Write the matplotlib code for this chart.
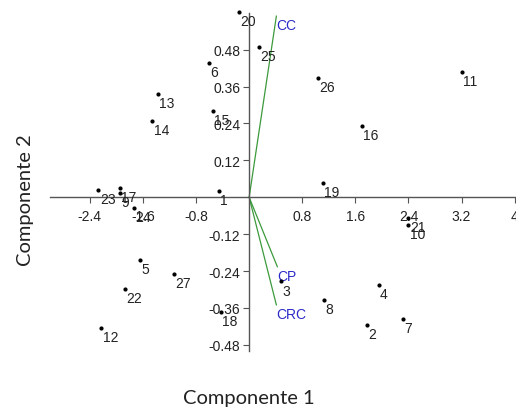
import matplotlib
matplotlib.use("Agg")
import matplotlib.pyplot as plt

# scores on the first two components
ids = [str(i) for i in range(1, 28)]
comp1 = [-0.46, 1.78, 0.476, 1.95, -1.65, -0.60, 2.32, 1.13, -1.94, 2.40,
         3.20, -2.23, -1.38, -1.46, -0.55, 1.695, -1.95, -0.43, 1.11, -0.156,
         2.40, -1.87, -2.27, -1.74, 0.15, 1.04, -1.135]
comp2 = [0.020, -0.415, -0.274, -0.284, -0.205, 0.436, -0.396, -0.333, 0.014, -0.090,
         0.408, -0.426, 0.336, 0.248, 0.280, 0.231, 0.030, -0.374, 0.045, 0.601,
         -0.067, -0.298, 0.023, -0.036, 0.488, 0.389, -0.248]

# variable loadings
var_names = ["CC", "CP", "CRC"]
var_x = [0.41, 0.425, 0.41]
var_y = [0.589, -0.226, -0.350]

xticks = [-2.4, -1.6, -0.8, 0.8, 1.6, 2.4, 3.2, 4]
yticks = [-0.48, -0.36, -0.24, -0.12, 0.12, 0.24, 0.36, 0.48]

plt.rcParams["font.family"] = ["Liberation Sans", "DejaVu Sans"]

fig = plt.figure(figsize=(5.16, 4.10), dpi=100)
ax = fig.add_axes([50 / 516, 0.1415, 466 / 516, 0.8249])
ax.set_xlim(-3.0, 4.02)
ax.set_ylim(-0.5, 0.6)

axis_col = "#555555"
for side in ["left", "bottom"]:
    ax.spines[side].set_position("zero")
    ax.spines[side].set_color(axis_col)
    ax.spines[side].set_linewidth(1.0)
for side in ["right", "top"]:
    ax.spines[side].set_visible(False)

ax.set_xticks(xticks)
ax.set_xticklabels(["%g" % t for t in xticks])
ax.set_yticks(yticks)
ax.set_yticklabels(["%.2f" % t for t in yticks])
ax.tick_params(axis="both", direction="out", length=4.5, width=0.8,
               color=axis_col, labelsize=10, labelcolor="#222222")
ax.tick_params(axis="x", pad=4)
ax.tick_params(axis="y", pad=1.8)

# loading vectors
for name, vx, vy in zip(var_names, var_x, var_y):
    ax.plot([0, vx], [0, vy], color="#3c9a3c", lw=0.9, zorder=2)
    ax.annotate(name, (vx, vy), xytext=(0, -6.5), textcoords="offset points",
                ha="left", va="center", fontsize=10, color="#2a2ac8")

# sample points
ax.plot(comp1, comp2, "o", ms=2.0, color="black", ls="none", zorder=3, clip_on=False)
for lab, x, y in zip(ids, comp1, comp2):
    ax.annotate(lab, (x, y), xytext=(1, -6.5), textcoords="offset points",
                ha="left", va="center", fontsize=10, color="#222222")

fig.text(249 / 516, 1 - 399 / 410, "Componente 1", ha="center", va="center",
         fontsize=14.5, family=["Lato", "DejaVu Sans"], color="#222222")
fig.text(25 / 516, 1 - 200 / 410, "Componente 2", ha="center", va="center",
         rotation=90, fontsize=14.5, family=["Lato", "DejaVu Sans"], color="#222222")

fig.savefig("out.png", dpi=100)
